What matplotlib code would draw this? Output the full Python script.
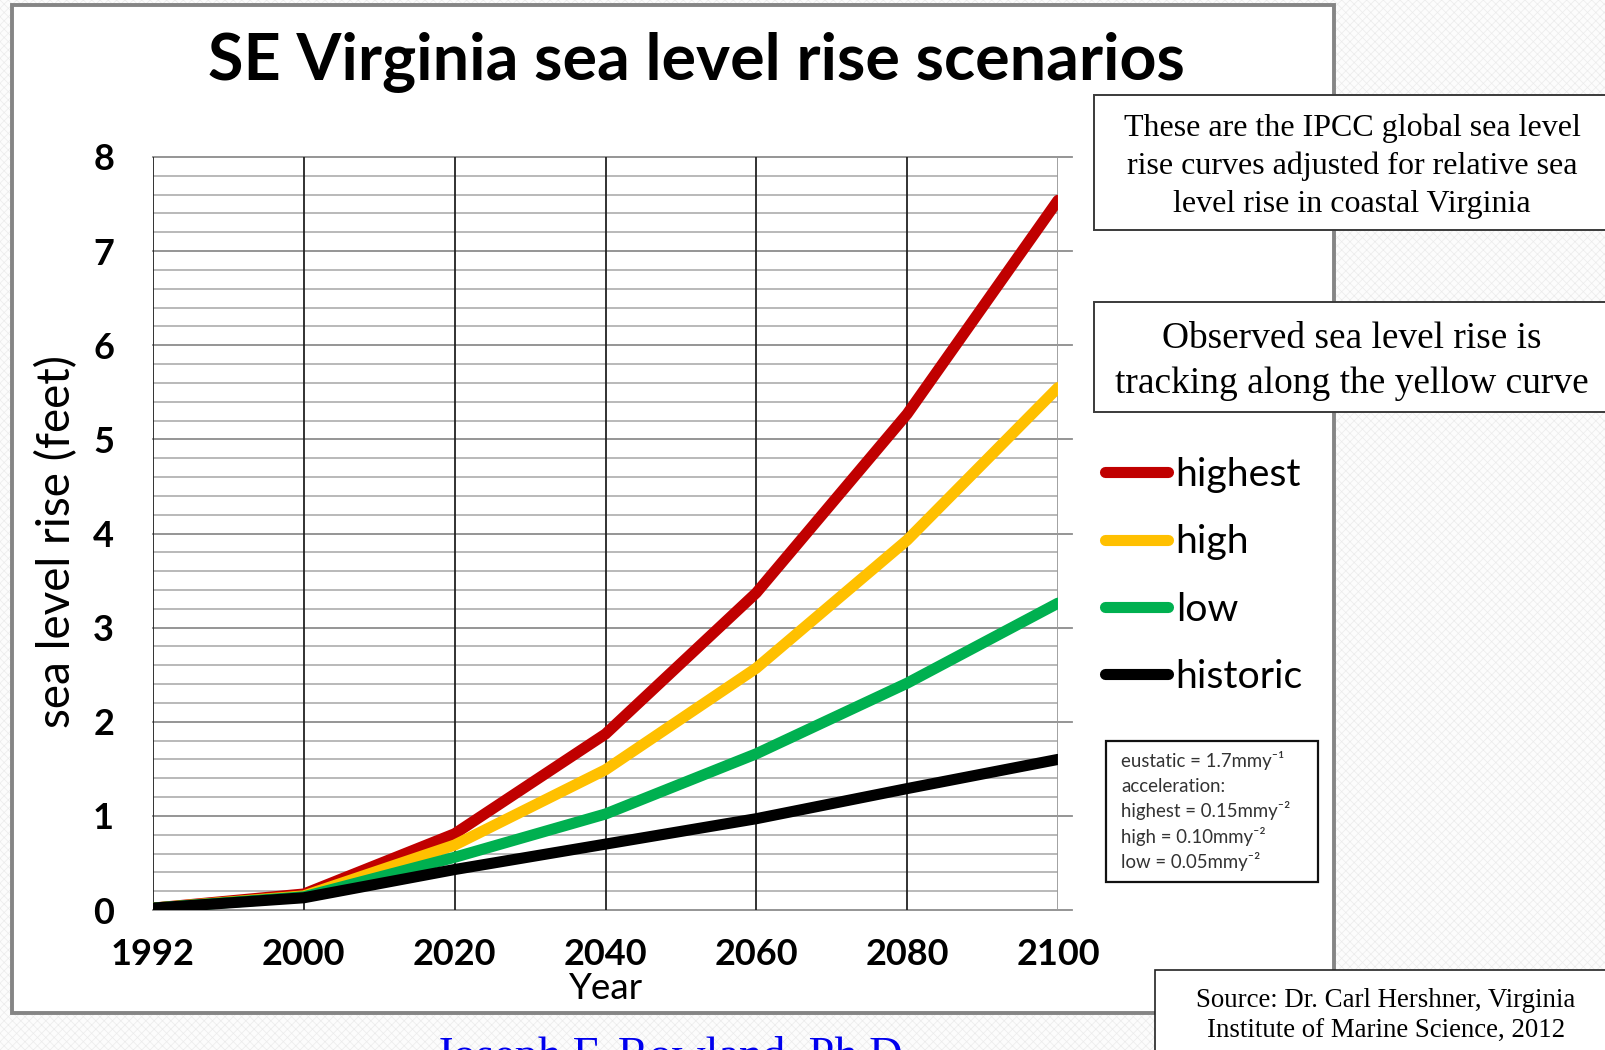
import matplotlib
matplotlib.use("Agg")
import matplotlib.pyplot as plt
from matplotlib.patches import Rectangle

# ---------------- data ----------------
years = ["1992", "2000", "2020", "2040", "2060", "2080", "2100"]
highest = [0.02, 0.17, 0.81, 1.87, 3.37, 5.27, 7.54]
high = [0.02, 0.15, 0.69, 1.49, 2.57, 3.93, 5.55]
low = [0.02, 0.14, 0.56, 1.02, 1.66, 2.41, 3.26]
historic = [0.02, 0.13, 0.43, 0.70, 0.97, 1.29, 1.60]
series_names = ["highest", "high", "low", "historic"]
series_colors = ["#C00000", "#FFC000", "#00B050", "#000000"]
y_ticks = [0, 1, 2, 3, 4, 5, 6, 7, 8]

title = "SE Virginia sea level rise scenarios"
note_ipcc = "These are the IPCC global sea level\nrise curves adjusted for relative sea\nlevel rise in coastal Virginia"
note_obs = "Observed sea level rise is\ntracking along the yellow curve"
note_params = ["eustatic = 1.7mmy\u207b\u00b9", "acceleration:",
               "highest = 0.15mmy\u207b\u00b2", "high = 0.10mmy\u207b\u00b2",
               "low = 0.05mmy\u207b\u00b2"]
note_source = "Source: Dr. Carl Hershner, Virginia\nInstitute of Marine Science, 2012"
author = "Joseph F. Rowland, Ph.D."

# ---------------- figure ----------------
W, H = 1605, 1050
plt.rcParams['hatch.linewidth'] = 0.5
fig = plt.figure(figsize=(W / 100, H / 100), dpi=100)
fig.patch.set_facecolor("white")

SANS = ["Lato", "DejaVu Sans"]
SERIF = ["Liberation Serif", "DejaVu Serif"]


def fx(x):
    return x / W


def fy(y):
    return 1 - y / H


def rect_px(x0, y0, x1, y1, **kw):
    r = Rectangle((fx(x0), fy(y1)), fx(x1 - x0), (y1 - y0) / H,
                  transform=fig.transFigure, **kw)
    fig.add_artist(r)
    return r


# textured slide background
rect_px(-5, -5, W + 5, H + 5, facecolor="#fcfcfc", edgecolor="#ebebeb",
        hatch="xxxx", linewidth=0, zorder=-3)
# chart frame
rect_px(12, 5, 1334, 1013, facecolor="white", edgecolor="#858585",
        linewidth=2.8, zorder=-2)

# ---------------- axes ----------------
ax = fig.add_axes([fx(153), fy(910), fx(1058 - 153), (910 - 157) / H])
ax.set_facecolor("none")
x = list(range(len(years)))
for vals, name, col in zip([highest, high, low, historic], series_names, series_colors):
    ax.plot(x, vals, color=col, lw=8, solid_capstyle="round",
            solid_joinstyle="round", label=name, zorder=3)

ax.set_xlim(0, len(years) - 1)
ax.set_ylim(0, 8)
ax.set_xticks(x)
ax.set_xticklabels(years)
ax.set_yticks(y_ticks)
ax.tick_params(length=0, labelsize=26, pad=20)
ax.tick_params(axis="y", pad=28)
for lab in ax.get_xticklabels() + ax.get_yticklabels():
    lab.set_fontfamily(SANS)
    lab.set_fontweight("bold")
for s in ax.spines.values():
    s.set_visible(False)

# minor horizontal grid (every 0.2)
minor_vals = [v / 5 for v in range(0, 41) if v % 5 != 0]
for v in minor_vals:
    ax.axhline(v, color="#a6a6a6", lw=1.1, zorder=1)
# major horizontal grid, extending slightly past the plot
for v in y_ticks:
    ax.axhline(v, xmin=0, xmax=1.016, color="#8c8c8c", lw=1.3, zorder=1,
               clip_on=False)
# vertical category lines
for i in x:
    ax.axvline(i, color="#9a9a9a" if i == x[-1] else "#222222", lw=1.3, zorder=2)

ax.set_xlabel("Year", fontsize=26.5, family=SANS)
ax.xaxis.set_label_coords(0.5, -0.083)
ax.set_ylabel("sea level rise (feet)", fontsize=33, family=SANS)
ax.yaxis.set_label_coords(-0.083, 0.49)

# title
fig.text(fx(696), fy(80), title, fontsize=46.5, fontweight="bold", family=SANS,
         ha="center", va="baseline")

# legend
leg = ax.legend(loc="center left", bbox_to_anchor=(fx(1105), fy(576)),
                bbox_transform=fig.transFigure, frameon=False,
                prop={"family": SANS, "size": 28.3}, handlelength=1.6,
                handletextpad=0.2, labelspacing=0.8, borderpad=0,
                borderaxespad=0)

# ---------------- text boxes ----------------
rect_px(1094, 95, 1620, 230, facecolor="white", edgecolor="#3a3a3a",
        linewidth=1.4, zorder=5)
fig.text(fx(1352), fy(166), note_ipcc, fontsize=23, family=SERIF,
         ha="center", va="center", linespacing=1.40, zorder=6)

rect_px(1094, 302, 1620, 412, facecolor="white", edgecolor="#3a3a3a",
        linewidth=1.4, zorder=5)
fig.text(fx(1352), fy(361), note_obs, fontsize=26.9, family=SERIF,
         ha="center", va="center", linespacing=1.39, zorder=6)

rect_px(1106, 741, 1318, 882, facecolor="white", edgecolor="#111111",
        linewidth=1.6, zorder=5)
for i, line in enumerate(note_params):
    fig.text(fx(1121), fy(767 + i * 25.2), line, fontsize=13.4, family=SANS,
             color="#333333", ha="left", va="baseline", zorder=6)

rect_px(1155, 970, 1620, 1070, facecolor="white", edgecolor="#222222",
        linewidth=1.2, zorder=5)
fig.text(fx(1386), fy(1016), note_source, fontsize=19.4, family=SERIF,
         ha="center", va="center", linespacing=1.35, zorder=6)

fig.text(fx(435), fy(1069), author, fontsize=33.4, family=SERIF, color="#0000EE",
         ha="left", va="baseline", zorder=6)

fig.savefig("out.png", dpi=100)
